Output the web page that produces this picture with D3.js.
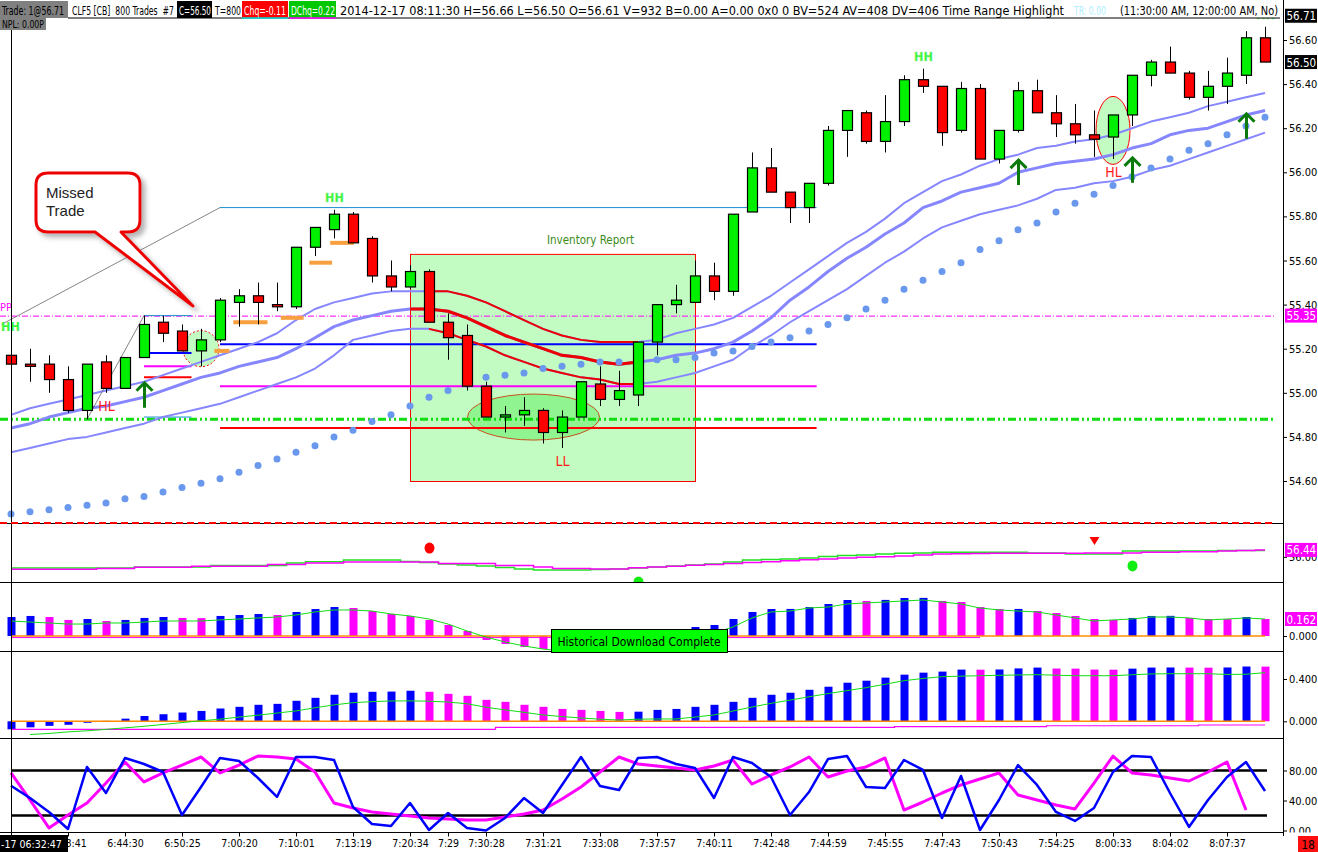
<!DOCTYPE html>
<html>
<head>
<meta charset="utf-8">
<title>CLF5 [CB] 800 Trades</title>
<script src="https://cdn.jsdelivr.net/npm/d3@7"></script>
<style>
  body { margin: 0; background: #fff; }
  svg { display: block; font-family: "DejaVu Sans Condensed", "DejaVu Sans", sans-serif; }
</style>
</head>
<body>
<svg id="chart" width="1318" height="852"></svg>
<script>
// ---- candles (800-trade bars) ----
const opens  = [55.17,55.13,55.13,55.06,54.92,55.14,55.02,55.16,55.32,55.28, 55.19,55.24,55.41,55.44,55.40,55.39,55.66,55.74,55.81,55.70,
                55.53,55.48,55.55,55.32,55.26,55.03,54.89,54.90,54.92,54.82, 54.89,55.04,54.97,54.99,55.23,55.40,55.41,55.53,55.46,55.82,
                56.02,55.91,55.84,55.95,56.19,56.27,56.14,56.23,56.42,56.39, 56.19,56.38,56.06,56.19,56.37,56.27,56.22,56.17,56.16,56.26,
                56.44,56.50,56.45,56.34,56.39,56.44,56.61];
const highs  = [55.18,55.20,55.17,55.12,55.13,55.17,55.16,55.35,55.35,55.31, 55.29,55.43,55.47,55.50,55.50,55.66,55.75,55.83,55.82,55.71,
                55.60,55.58,55.56,55.36,55.31,55.05,54.94,54.98,54.93,54.92, 55.05,55.12,55.10,55.23,55.40,55.49,55.60,55.59,55.81,56.09,
                56.11,55.91,55.95,56.21,56.28,56.28,56.35,56.44,56.47,56.39, 56.41,56.40,56.19,56.41,56.42,56.35,56.31,56.28,56.26,56.44,
                56.51,56.57,56.46,56.46,56.52,56.64,56.66];
const lows   = [55.12,55.05,55.00,54.91,54.88,55.00,55.02,55.16,55.23,55.19, 55.12,55.23,55.30,55.31,55.37,55.38,55.62,55.70,55.68,55.50,
                55.46,55.47,55.32,55.15,55.01,54.89,54.82,54.85,54.77,54.75, 54.89,54.94,54.94,54.94,55.17,55.36,55.41,55.42,55.44,55.82,
                55.91,55.77,55.77,55.94,56.07,56.13,56.09,56.21,56.36,56.12, 56.18,56.06,56.04,56.18,56.27,56.16,56.13,56.07,56.06,56.21,
                56.39,56.45,56.33,56.28,56.31,56.40,56.50];
const closes = [55.13,55.12,55.06,54.92,55.13,55.02,55.16,55.31,55.27,55.19, 55.24,55.42,55.44,55.41,55.39,55.66,55.75,55.81,55.68,55.53,
                55.48,55.55,55.32,55.25,55.03,54.89,54.90,54.92,54.82,54.89, 55.05,54.97,55.01,55.23,55.40,55.42,55.53,55.46,55.81,56.02,
                55.91,55.84,55.95,56.19,56.28,56.14,56.23,56.42,56.39,56.18, 56.38,56.06,56.19,56.37,56.27,56.22,56.17,56.15,56.26,56.44,
                56.50,56.45,56.34,56.39,56.45,56.61,56.50];

// ---- overlays on price ----
const bandTop = [54.90,54.93,54.95,54.97,54.99,55.01,55.03,55.05,55.08,55.11, 55.14,55.17,55.20,55.23,55.27,55.33,55.38,55.41,55.43,55.45,
                 55.46,55.46,55.46,55.46,55.44,55.41,55.37,55.33,55.29,55.26, 55.24,55.23,55.23,55.23,55.24,55.27,55.29,55.31,55.34,55.39,
                 55.44,55.50,55.56,55.62,55.68,55.73,55.79,55.86,55.91,55.96, 55.99,56.03,56.06,56.08,56.11,56.12,56.14,56.15,56.17,56.20,
                 56.23,56.25,56.27,56.30,56.32,56.34,56.36];
const bandMid = [54.84,54.86,54.89,54.91,54.93,54.94,54.96,54.98,55.01,55.04, 55.07,55.09,55.12,55.14,55.16,55.20,55.25,55.30,55.33,55.35,
                 55.37,55.38,55.38,55.37,55.34,55.30,55.26,55.23,55.20,55.17, 55.16,55.14,55.13,55.14,55.15,55.17,55.18,55.20,55.23,55.28,
                 55.34,55.42,55.48,55.55,55.61,55.66,55.72,55.77,55.84,55.87, 55.91,55.93,55.95,56.00,56.02,56.04,56.05,56.06,56.08,56.11,
                 56.13,56.17,56.19,56.20,56.23,56.26,56.28];
const bandLow = [54.73,54.75,54.77,54.79,54.80,54.82,54.84,54.86,54.89,54.91, 54.93,54.95,54.98,55.01,55.04,55.07,55.11,55.17,55.24,55.26,
                 55.28,55.29,55.29,55.27,55.24,55.21,55.17,55.14,55.11,55.09, 55.07,55.06,55.04,55.04,55.05,55.07,55.09,55.12,55.15,55.21,
                 55.26,55.32,55.37,55.42,55.47,55.53,55.59,55.64,55.70,55.75, 55.78,55.81,55.83,55.85,55.88,55.92,55.93,55.95,55.96,55.98,
                 56.01,56.03,56.06,56.09,56.12,56.15,56.18];
const psar    = [54.45,54.46,54.47,54.48,54.49,54.50,54.52,54.53,54.55,54.57, 54.59,54.61,54.64,54.67,54.70,54.73,54.76,54.80,54.83,54.87,
                 54.90,54.94,54.98,55.01,55.04,55.07,55.08,55.09,55.11,55.12, 55.13,55.14,55.14,55.14,55.15,55.15,55.16,55.18,55.19,55.21,
                 55.23,55.25,55.28,55.31,55.34,55.38,55.42,55.47,55.51,55.55, 55.59,55.65,55.69,55.74,55.77,55.82,55.86,55.90,55.94,55.98,
                 56.02,56.06,56.10,56.13,56.17,56.21,56.25];

const pivotLevel = 55.35, supportLevel = 54.88, lowerLevel = 54.41;
const keyLevels = [55.84, 55.22, 55.03, 54.84];       // light blue, blue, magenta, red
const keySpan = [11, 42.4];
const priorLevels = [55.35, 55.18, 55.12, 55.07, 54.89];
const priorSpan = [7, 9.5];
const stopMarks = [[10.7, 11.5, 55.19], [11.7, 13.5, 55.32], [14.2, 15.4, 55.34], [15.7, 16.9, 55.59], [16.8, 18.05, 55.68]];
const zigzags = [[[-0.5, 55.31], [11, 55.84]], [[4, 54.88], [7, 55.35]]];
const highlightRange = [21, 33];
const inventoryRange = [21, 36], inventoryPrices = [54.60, 55.63];
const swingHighs = [[17, "HH"], [48, "HH"], [66, "HH"]];
const swingLows  = [[5, "HL"], [29, "LL"], [58, "HL"]];
const upArrows = [[7, 55.05], [53, 56.06], [59, 56.07], [65, 56.27]];
const marks = [[10, 55.20], [27.5, 54.89], [58, 56.19]];

// ---- panel 2: slow / fast averages ----
const p2Slow = [55.21,55.21,55.21,55.21,55.21,55.26,55.26,55.34,55.34,55.34, 55.40,55.40,55.40,55.40,55.51,55.51,55.61,55.61,55.67,55.67,
                55.67,55.67,55.67,55.57,55.57,55.57,55.45,55.45,55.35,55.26, 55.26,55.22,55.22,55.31,55.35,55.40,55.46,55.51,55.57,55.64,
                55.69,55.75,55.82,55.86,55.92,55.97,56.01,56.06,56.11,56.18, 56.19,56.21,56.22,56.22,56.22,56.22,56.22,56.25,56.25,56.25,
                56.29,56.29,56.32,56.32,56.37,56.40,56.44];
const p2Fast = [55.29,55.29,55.29,55.29,55.29,55.29,55.29,55.35,55.35,55.35, 55.35,55.45,55.45,55.45,55.45,55.61,55.69,55.69,55.80,55.80,
                55.80,55.70,55.64,55.54,55.48,55.42,55.32,55.22,55.16,55.16, 55.16,55.19,55.22,55.29,55.35,55.42,55.48,55.54,55.67,55.80,
                55.83,55.86,55.92,56.02,56.08,56.11,56.18,56.22,56.24,56.29, 56.29,56.29,56.29,56.29,56.24,56.24,56.18,56.18,56.18,56.37,
                56.37,56.37,56.37,56.37,56.41,56.41,56.41];
const p2Signals = [[22, 56.56, "sell"], [33, 54.40, "buy"], [57, 57.00, "sellArrow"], [59, 55.42, "buy"]];

// ---- panel 3: oscillator histogram ----
const oscHist = [0.181,0.191,0.181,0.153,0.162,0.143,0.153,0.172,0.181,0.172, 0.170,0.191,0.200,0.210,0.200,0.229,0.257,0.276,0.267,0.238,
                 0.210,0.191,0.153,0.105,0.048,-0.038,-0.076,-0.105,-0.124,-0.130, -0.120,-0.090,-0.050,-0.010,0.030,0.060,0.086,0.105,0.162,0.229,
                 0.257,0.258,0.276,0.305,0.343,0.334,0.344,0.362,0.363,0.334, 0.324,0.276,0.257,0.258,0.238,0.219,0.191,0.162,0.153,0.172,
                 0.191,0.192,0.172,0.162,0.161,0.181,0.162];
const oscSignal = [0.143,0.133,0.124,0.114,0.114,0.124,0.124,0.133,0.143,0.143, 0.143,0.153,0.162,0.172,0.181,0.200,0.229,0.248,0.248,0.238,
                   0.210,0.191,0.162,0.114,0.048,-0.010,-0.057,-0.095,-0.124,-0.143, -0.143,-0.133,-0.105,-0.076,-0.048,-0.019,0.000,0.029,0.086,0.172,
                   0.229,0.238,0.267,0.276,0.305,0.315,0.324,0.334,0.343,0.324, 0.305,0.267,0.248,0.238,0.229,0.200,0.172,0.143,0.153,0.162,
                   0.181,0.181,0.172,0.153,0.162,0.172,0.162];
const oscFloor = -0.015, oscFloorEnd = 51;

// ---- panel 4: trend histogram ----
const trendHist = [-0.076,-0.057,-0.043,-0.033,-0.014,0.004,0.025,0.050,0.067,0.083, 0.098,0.121,0.137,0.156,0.165,0.194,0.222,0.251,0.270,0.279,
                   0.281,0.289,0.279,0.260,0.241,0.203,0.184,0.156,0.137,0.117, 0.108,0.098,0.089,0.091,0.108,0.117,0.137,0.156,0.184,0.222,
                   0.251,0.270,0.298,0.327,0.365,0.384,0.413,0.441,0.460,0.470, 0.489,0.488,0.490,0.500,0.508,0.499,0.498,0.489,0.488,0.498,
                   0.508,0.509,0.508,0.507,0.509,0.518,0.517];
const trendSignal = [null,-0.125,-0.115,-0.100,-0.090,-0.076,-0.062,-0.047,-0.030,-0.012, 0.005,0.020,0.040,0.058,0.078,0.098,0.128,0.155,0.176,0.186,
                     0.192,0.193,0.190,0.182,0.166,0.133,0.108,0.085,0.060,0.045, 0.031,0.020,0.012,0.020,0.022,0.022,0.040,0.060,0.097,0.135,
                     0.170,0.200,0.232,0.262,0.290,0.318,0.350,0.384,0.405,0.422, 0.427,0.431,0.435,0.438,0.441,0.436,0.431,0.431,0.431,0.440,
                     0.448,0.450,0.450,0.450,0.443,0.445,0.460];
const trendFloor = [-0.076,-0.076,-0.076,-0.076,-0.076,-0.076,-0.076,-0.076,-0.076,-0.076, -0.076,-0.076,-0.076,-0.076,-0.076,-0.076,-0.076,-0.076,-0.076,-0.076,
                    -0.076,-0.076,-0.076,-0.076,-0.076,-0.076,-0.057,-0.057,-0.057,-0.057, -0.057,-0.057,-0.057,-0.057,-0.057,-0.057,-0.057,-0.057,-0.057,-0.057,
                    -0.057,-0.057,-0.057,-0.057,-0.057,-0.057,-0.057,-0.051,-0.051,-0.051, -0.051,-0.051,-0.051,-0.051,-0.051,-0.042,-0.042,-0.042,-0.042,-0.042,
                    -0.042,-0.042,-0.042,-0.035,-0.035,-0.035,-0.035];

// ---- panel 5: stochastic ----
const stochK = [59.7,43.3,24.7,2.0,84.7,50.0,96.7,88.7,78.0,20.7, 58.0,96.7,92.7,70.0,44.7,98.0,98.0,94.0,31.3,8.7,
                6.0,36.7,0.7,23.3,3.3,0.0,16.7,43.3,23.3,60.7, 98.0,59.3,54.0,96.7,98.0,88.7,83.3,43.3,98.0,90.0,
                71.3,20.7,51.3,95.3,99.3,58.0,56.7,94.0,80.7,16.7, 72.7,0.7,40.7,87.3,60.7,24.7,12.7,30.0,78.0,99.3,
                98.0,50.0,4.7,40.7,71.3,91.3,52.7];
const stochD = [76.7,40.7,3.3,20.7,36.7,63.3,91.3,64.7,76.7,87.3, 98.0,76.7,87.3,99.3,98.0,95.3,78.0,36.7,30.0,24.7,
                22.0,19.3,16.7,15.3,14.0,14.0,18.0,22.0,27.3,42.0, 58.0,78.0,98.0,88.7,86.0,83.3,80.7,86.0,94.0,62.0,
                74.0,84.7,98.0,71.3,79.3,84.7,96.7,27.3,38.0,50.0, 60.7,68.7,76.7,47.3,40.7,34.0,28.7,63.3,99.3,76.7,
                74.0,70.0,66.0,78.0,91.3,27.3,null];
const stochBands = [80, 20];

// ---- time axis ----
const tickIdx  = [3, 6, 9, 12, 15, 18, 21, 23, 25, 28, 31, 34, 37, 40, 43, 46, 49, 52, 55, 58, 61, 64];
const tickText = ["6:38:41", "6:44:30", "6:50:25", "7:00:20", "7:10:01", "7:13:19", "7:20:34", "7:29", "7:30:28", "7:31:21", "7:33:08",
                  "7:37:57", "7:40:11", "7:42:48", "7:44:59", "7:45:55", "7:47:43", "7:50:43", "7:54:25", "8:00:33", "8:04:02", "8:07:37"];
const firstStamp = "-17 06:32:47";
const priceTicks = [54.6, 54.8, 55.0, 55.2, 55.4, 55.6, 55.8, 56.0, 56.2, 56.4, 56.6];
const lastTrade = 56.71;
const barsLeft = 18;

// ---------------------------------------------------------------
const svg = d3.select("#chart");
const axisX = 1283;
const n = opens.length;
const GREEN = "#00f000", RED = "#ff0000", BLUE = "#0000ff", MAG = "#ff00ff";

const x = d3.scaleLinear().domain([0, n - 1]).range([11, 1265]);
const yMain = d3.scaleLinear().domain([54.60, 56.60]).range([481, 40]);
const yP2 = d3.scaleLinear().domain([54.40, 58.15]).range([582, 523]);
const yP3 = d3.scaleLinear().domain([0, 0.162]).range([636, 619]);
const yP4 = d3.scaleLinear().domain([0, 0.4]).range([721.3, 679]);
const yP5 = d3.scaleLinear().domain([0, 80]).range([830.5, 770.5]);

const defs = svg.append("defs");
function clip(id, y0, y1) {
  defs.append("clipPath").attr("id", id).append("rect")
    .attr("x", 0).attr("y", y0).attr("width", axisX).attr("height", y1 - y0);
}
clip("cMain", 0, 523); clip("c2", 523, 582); clip("c3", 582, 651); clip("c4", 651, 738); clip("c5", 738, 832);
// axis groups are translated to axisX, so this clip is in their local space
defs.append("clipPath").attr("id", "cAxis5").append("rect").attr("x", 0).attr("y", 738).attr("width", 40).attr("height", 94.5);
defs.append("filter").attr("id", "shadow").attr("x", "-20%").attr("y", "-20%").attr("width", "150%").attr("height", "150%")
  .append("feDropShadow").attr("dx", 4).attr("dy", 4).attr("stdDeviation", 2.5)
  .attr("flood-color", "#777").attr("flood-opacity", 0.55);

svg.append("rect").attr("width", 1318).attr("height", 852).attr("fill", "#fff");

// ================= main price panel =================
const main = svg.append("g").attr("clip-path", "url(#cMain)");
const lineOf = (arr, scale) => d3.line().defined(d => d != null).x((d, i) => x(i)).y(d => scale(d))(arr);

// inventory report time range
main.append("rect")
  .attr("x", x(inventoryRange[0]) + 0.5).attr("y", yMain(inventoryPrices[1]) + 0.5)
  .attr("width", x(inventoryRange[1]) - x(inventoryRange[0]))
  .attr("height", yMain(inventoryPrices[0]) - yMain(inventoryPrices[1]))
  .attr("fill", "#c2fcc2").attr("stroke", RED);
main.append("text").attr("x", x(inventoryRange[0]) + 137).attr("y", yMain(inventoryPrices[1]) - 10)
  .attr("font-size", 11.5).attr("fill", "#3c8a1a").text("Inventory Report");

// highlighted setups
const markSize = [[18, 18], [66, 23], [17, 34]];
main.selectAll("ellipse.mark").data(marks).join("ellipse")
  .attr("cx", d => x(d[0])).attr("cy", d => yMain(d[1]))
  .attr("rx", (d, i) => markSize[i][0]).attr("ry", (d, i) => markSize[i][1])
  .attr("fill", (d, i) => i === 1 ? "#90f590" : "#c2fcc2")
  .attr("stroke", (d, i) => i === 1 ? "#c8501e" : RED)
  .attr("stroke-dasharray", (d, i) => i === 0 ? "2,2" : null);

// horizontal levels
main.append("line").attr("x1", 0).attr("x2", 1275).attr("y1", yMain(pivotLevel) + 0.5).attr("y2", yMain(pivotLevel) + 0.5)
  .attr("stroke", MAG).attr("stroke-width", 1).attr("stroke-dasharray", "6,2,1,2");
main.append("line").attr("x1", 0).attr("x2", 1275).attr("y1", yMain(supportLevel)).attr("y2", yMain(supportLevel))
  .attr("stroke", "#11dd11").attr("stroke-width", 3).attr("stroke-dasharray", "8,3,2,3,2,3");

const keyStyle = [["#1a8fd0", 1], ["#0000ff", 2], [MAG, 2], [RED, 2]];
main.selectAll("line.key").data(keyLevels).join("line")
  .attr("x1", x(keySpan[0])).attr("x2", x(keySpan[1]))
  .attr("y1", d => yMain(d)).attr("y2", d => yMain(d))
  .attr("stroke", (d, i) => keyStyle[i][0]).attr("stroke-width", (d, i) => keyStyle[i][1]);
const priorStyle = [["#1a8fd0", 1], ["#0000ff", 2], [MAG, 2], [RED, 2], ["#1a8fd0", 1]];
main.selectAll("line.prior").data(priorLevels).join("line")
  .attr("x1", x(priorSpan[0])).attr("x2", x(priorSpan[1]))
  .attr("y1", d => yMain(d)).attr("y2", d => yMain(d))
  .attr("stroke", (d, i) => priorStyle[i][0]).attr("stroke-width", (d, i) => priorStyle[i][1]);

// bands, red inside the highlighted time range
[[bandTop, 2], [bandMid, 3], [bandLow, 2]].forEach(([arr, w]) => {
  main.append("path").attr("d", lineOf(arr, yMain)).attr("fill", "none")
    .attr("stroke", "#8686ff").attr("stroke-width", w).attr("stroke-linejoin", "round");
});
[[bandTop, 2, highlightRange[0] + 1], [bandMid, 3, highlightRange[0]], [bandLow, 2, highlightRange[0] + 1]].forEach(([arr, w, a]) => {
  const part = arr.map((v, i) => (i >= a && i <= highlightRange[1]) ? v : null);
  main.append("path").attr("d", lineOf(part, yMain)).attr("fill", "none")
    .attr("stroke", "#ee0000").attr("stroke-width", w).attr("stroke-linejoin", "round");
});

// trailing stop dots
main.selectAll("circle.sar").data(psar).join("circle")
  .attr("cx", (d, i) => x(i)).attr("cy", d => yMain(d)).attr("r", 3.5).attr("fill", "#6a98ec");

// zigzag
zigzags.forEach(seg => {
  main.append("line").attr("x1", x(seg[0][0])).attr("y1", yMain(seg[0][1]))
    .attr("x2", x(seg[1][0])).attr("y2", yMain(seg[1][1])).attr("stroke", "#666").attr("stroke-width", 0.8);
});

// stop markers
main.selectAll("rect.stop").data(stopMarks).join("rect")
  .attr("x", d => x(d[0])).attr("width", d => x(d[1]) - x(d[0]))
  .attr("y", d => yMain(d[2]) - 2).attr("height", 4).attr("fill", "#f8a040");

// candles
const cg = main.selectAll("g.candle").data(d3.range(n)).join("g");
cg.append("line")
  .attr("x1", i => x(i) + 0.5).attr("x2", i => x(i) + 0.5)
  .attr("y1", i => yMain(highs[i])).attr("y2", i => yMain(lows[i]))
  .attr("stroke", "#000").attr("stroke-width", 1);
cg.append("rect")
  .attr("x", i => x(i) - 4.5).attr("width", 10)
  .attr("y", i => yMain(Math.max(opens[i], closes[i])))
  .attr("height", i => Math.max(2, Math.abs(yMain(opens[i]) - yMain(closes[i]))))
  .attr("fill", i => closes[i] >= opens[i] ? GREEN : RED)
  .attr("stroke", "#000").attr("stroke-width", 1.2);

// swing labels
main.selectAll("text.hh").data(swingHighs).join("text")
  .attr("x", d => x(d[0]) + 0.5).attr("y", d => yMain(highs[d[0]]) - 8)
  .attr("text-anchor", "middle").attr("font-size", 12.5).attr("font-weight", "bold")
  .attr("fill", "#3cf53c").attr("stroke", "#9ef09e").attr("stroke-width", 0.3).text(d => d[1]);
main.selectAll("text.hl").data(swingLows).join("text")
  .attr("x", d => x(d[0]) + 0.5).attr("y", d => yMain(lows[d[0]]) + 18)
  .attr("text-anchor", "middle").attr("font-size", 14).attr("fill", "#ff1a1a").text(d => d[1]);
main.append("text").attr("x", 0).attr("y", yMain(pivotLevel) - 5).attr("font-size", 11).attr("fill", MAG).text("PP");
main.append("text").attr("x", 1).attr("y", yMain(pivotLevel) + 15).attr("font-size", 12.5).attr("font-weight", "bold")
  .attr("fill", "#3cf53c").text("HH");

// entry arrows
const ag = main.selectAll("g.arrow").data(upArrows).join("g")
  .attr("transform", d => `translate(${x(d[0]) + 0.5},${yMain(d[1])})`);
ag.append("path").attr("d", "M0,1V26M-8,9L0,1L8,9").attr("fill", "none")
  .attr("stroke", "#0b7a0b").attr("stroke-width", 3);

// Missed Trade callout
const callout = main.append("g");
callout.append("path")
  .attr("d", "M48,173H128Q140,173 140,185V220Q140,232 128,232H121L193,306L95,232H48Q36,232 36,220V185Q36,173 48,173Z")
  .attr("fill", "#fff").attr("stroke", "#ee0000").attr("stroke-width", 3).attr("stroke-linejoin", "round")
  .attr("filter", "url(#shadow)");
callout.append("text").attr("x", 46).attr("y", 198).attr("font-family", "Liberation Sans, Arial, sans-serif")
  .attr("font-size", 15).attr("fill", "#222").text("Missed");
callout.append("text").attr("x", 46).attr("y", 216).attr("font-family", "Liberation Sans, Arial, sans-serif")
  .attr("font-size", 15).attr("fill", "#222").text("Trade");

// ================= panel 2 =================
const p2 = svg.append("g").attr("clip-path", "url(#c2)");
const stepOf = (arr, scale) => d3.line().defined(d => d != null).curve(d3.curveStep).x((d, i) => x(i)).y(d => scale(d))(arr);
p2.append("path").attr("d", stepOf(p2Fast, yP2)).attr("fill", "none").attr("stroke", "#22e022").attr("stroke-width", 1.5);
p2.append("path").attr("d", stepOf(p2Slow, yP2)).attr("fill", "none").attr("stroke", MAG).attr("stroke-width", 1.5);
p2Signals.forEach(([i, v, kind]) => {
  const cx = x(i) + 0.5, cy = yP2(v);
  if (kind === "sellArrow") {
    p2.append("path").attr("d", `M${cx - 5},${cy - 4}L${cx + 5},${cy - 4}L${cx},${cy + 4}Z`).attr("fill", RED);
  } else {
    p2.append("ellipse").attr("cx", cx).attr("cy", cy).attr("rx", 5).attr("ry", 5.5)
      .attr("fill", kind === "sell" ? RED : "#11ee11");
  }
});

// ================= panel 3 =================
const p3 = svg.append("g").attr("clip-path", "url(#c3)");
const risingColor = arr => arr.map((v, i) => (i === 0 || v >= arr[i - 1]) ? BLUE : MAG);
const c3 = risingColor(oscHist);
p3.selectAll("rect").data(oscHist).join("rect")
  .attr("x", (d, i) => x(i) - 3.5).attr("width", 8)
  .attr("y", d => Math.min(yP3(d), yP3(0))).attr("height", d => Math.abs(yP3(d) - yP3(0)))
  .attr("fill", (d, i) => c3[i]);
p3.append("line").attr("x1", x(0)).attr("x2", x(oscFloorEnd)).attr("y1", yP3(oscFloor)).attr("y2", yP3(oscFloor))
  .attr("stroke", MAG).attr("stroke-width", 1);
p3.append("line").attr("x1", x(0)).attr("x2", x(n - 1)).attr("y1", yP3(0)).attr("y2", yP3(0))
  .attr("stroke", "#ff8c00").attr("stroke-width", 1.5);
p3.append("path").attr("d", lineOf(oscSignal, yP3)).attr("fill", "none").attr("stroke", "#11dd11").attr("stroke-width", 1);

// ================= panel 4 =================
const p4 = svg.append("g").attr("clip-path", "url(#c4)");
const c4 = risingColor(trendHist);
p4.selectAll("rect").data(trendHist).join("rect")
  .attr("x", (d, i) => x(i) - 3.5).attr("width", 8)
  .attr("y", d => Math.min(yP4(d), yP4(0))).attr("height", d => Math.abs(yP4(d) - yP4(0)))
  .attr("fill", (d, i) => c4[i]);
p4.append("path").attr("d", stepOf(trendFloor, yP4)).attr("fill", "none").attr("stroke", MAG).attr("stroke-width", 1.2);
p4.append("line").attr("x1", x(0)).attr("x2", x(n - 1)).attr("y1", yP4(0)).attr("y2", yP4(0))
  .attr("stroke", "#ff8c00").attr("stroke-width", 1.5);
p4.append("path").attr("d", lineOf(trendSignal, yP4)).attr("fill", "none").attr("stroke", "#11dd11").attr("stroke-width", 1);

// ================= panel 5 =================
const p5 = svg.append("g").attr("clip-path", "url(#c5)");
stochBands.forEach(v => {
  p5.append("line").attr("x1", x(0)).attr("x2", x(n - 1) + 2).attr("y1", yP5(v)).attr("y2", yP5(v))
    .attr("stroke", "#000").attr("stroke-width", 2.5);
});
p5.append("path").attr("d", lineOf(stochD, yP5)).attr("fill", "none").attr("stroke", MAG).attr("stroke-width", 3).attr("stroke-linejoin", "round");
p5.append("path").attr("d", lineOf(stochK, yP5)).attr("fill", "none").attr("stroke", BLUE).attr("stroke-width", 2.5).attr("stroke-linejoin", "round");

// ================= frame =================
const frame = svg.append("g").attr("stroke", "#000").attr("stroke-width", 1);
[523, 582, 651, 738].forEach(y => frame.append("line").attr("x1", 0).attr("x2", axisX).attr("y1", y + 0.5).attr("y2", y + 0.5));
frame.append("line").attr("x1", 0).attr("x2", axisX).attr("y1", 832.5).attr("y2", 832.5);
frame.append("line").attr("x1", axisX + 0.5).attr("x2", axisX + 0.5).attr("y1", 0).attr("y2", 836);
frame.append("line").attr("x1", x(0) + 0.5).attr("x2", x(0) + 0.5).attr("y1", 30).attr("y2", 836);
// red dashed level sits on the panel edge
svg.append("line").attr("x1", 0).attr("x2", 1275).attr("y1", yMain(lowerLevel)).attr("y2", yMain(lowerLevel))
  .attr("stroke", RED).attr("stroke-width", 2).attr("stroke-dasharray", "7,4");

// Historical download notice
svg.append("rect").attr("x", 551.5).attr("y", 629.5).attr("width", 176).attr("height", 23)
  .attr("fill", "#00ff00").attr("stroke", "#000");
svg.append("text").attr("x", 639).attr("y", 645.5).attr("text-anchor", "middle").attr("font-size", 12)
  .attr("fill", "#000").text("Historical Download Complete");

// ================= right axes =================
function rightAxis(scale, values, fmt, clipId) {
  const g = svg.append("g").attr("transform", `translate(${axisX},0)`)
    .call(d3.axisRight(scale).tickValues(values).tickFormat(d3.format(fmt)).tickSize(4).tickPadding(2));
  g.select(".domain").remove();
  g.attr("font-family", null).attr("font-size", 11);
  g.selectAll("text").attr("fill", "#000");
  if (clipId) g.attr("clip-path", `url(#${clipId})`);
  return g;
}
rightAxis(yMain, priceTicks, ".2f");
rightAxis(yP2, [56.0], ".2f");
rightAxis(yP3, [0], ".3f");
rightAxis(yP4, [0, 0.4], ".3f");
rightAxis(yP5, [0, 40, 80], ".2f", "cAxis5");

function tag(y, text, bg) {
  svg.append("rect").attr("x", axisX + 2).attr("y", y - 7).attr("width", 32).attr("height", 14).attr("fill", bg);
  svg.append("text").attr("x", axisX + 3.5).attr("y", y + 4.5).attr("font-size", 11.5).attr("fill", "#fff").text(text);
}
tag(yMain(lastTrade), d3.format(".2f")(lastTrade), "#000");
tag(yMain(closes[n - 1]), d3.format(".2f")(closes[n - 1]), "#000");
tag(yMain(pivotLevel), d3.format(".2f")(pivotLevel), MAG);
tag(yP2(p2Slow[n - 1]), d3.format(".2f")(p2Slow[n - 1]), MAG);
tag(yP3(oscHist[n - 1]), d3.format(".3f")(oscHist[n - 1]), MAG);

// ================= time axis =================
const xa = svg.append("g").attr("transform", "translate(0,832.5)")
  .call(d3.axisBottom(x).tickValues(tickIdx).tickFormat((d, i) => tickText[i]).tickSize(4).tickPadding(3));
xa.select(".domain").remove();
xa.attr("font-family", null).attr("font-size", 10.5);
xa.selectAll("text").attr("fill", "#000");
svg.append("rect").attr("x", 0).attr("y", 835).attr("width", 68).attr("height", 17).attr("fill", "#000");
svg.append("text").attr("x", 1).attr("y", 848).attr("font-size", 10.5).attr("fill", "#fff").text(firstStamp);
svg.append("rect").attr("x", 1298).attr("y", 836).attr("width", 20).attr("height", 16).attr("fill", "#ff1010");
svg.append("text").attr("x", 1308).attr("y", 849).attr("text-anchor", "middle").attr("font-size", 12).attr("fill", "#000").text(barsLeft);

// ================= status bar =================
const bar = svg.append("g").attr("font-size", 13);
bar.append("rect").attr("x", 0).attr("y", 0).attr("width", axisX).attr("height", 18).attr("fill", "#fff");
const items = [
  { x: 0, w: 68, bg: "#808080", fg: "#000", t: "Trade: 1@56.71", tl: 62 },
  { x: 70, w: 0, fg: "#000", t: "CLF5 [CB]\u00a0\u00a0800 Trades\u00a0\u00a0#7", tl: 102 },
  { x: 177, w: 35, bg: "#000", fg: "#fff", t: "C=56.50", tl: 32 },
  { x: 213, w: 0, fg: "#000", t: "T=800", tl: 26 },
  { x: 242, w: 46, bg: "#ff0000", fg: "#fff", t: "Chq=-0.11", tl: 42 },
  { x: 289, w: 47, bg: "#00c800", fg: "#fff", t: "DChq=0.22", tl: 44 },
  { x: 338, w: 0, fg: "#000", t: "2014-12-17 08:11:30 H=56.66 L=56.50 O=56.61 V=932 B=0.00 A=0.00 0x0 0 BV=524 AV=408 DV=406 Time Range Highlight", tl: 724 },
  { x: 1072, w: 0, fg: "#b0eeff", t: "TR: 0.00", tl: 32 },
  { x: 1118, w: 0, fg: "#000", t: "(11:30:00 AM, 12:00:00 AM, No)", tl: 158 }
];
bar.append("line").attr("x1", 68).attr("x2", 1280).attr("y1", 18).attr("y2", 18).attr("stroke", "#000");
items.forEach(it => {
  if (it.bg) bar.append("rect").attr("x", it.x).attr("y", 1).attr("width", it.w).attr("height", 17).attr("fill", it.bg);
  bar.append("text").attr("x", it.x + 2).attr("y", 14.5).attr("fill", it.fg)
    .attr("textLength", it.tl).attr("lengthAdjust", "spacingAndGlyphs").text(it.t);
});
bar.append("line").attr("x1", 242).attr("x2", 288).attr("y1", 18).attr("y2", 18).attr("stroke", "#00e0e0").attr("stroke-width", 1.5);
bar.append("line").attr("x1", 289).attr("x2", 336).attr("y1", 18).attr("y2", 18).attr("stroke", MAG).attr("stroke-width", 1.5);
bar.append("rect").attr("x", 0).attr("y", 18).attr("width", 46).attr("height", 12).attr("fill", "#808080");
bar.append("text").attr("x", 2).attr("y", 28).attr("font-size", 11).attr("fill", "#000")
  .attr("textLength", 42).attr("lengthAdjust", "spacingAndGlyphs").text("NPL: 0.00P");
</script>
</body>
</html>
